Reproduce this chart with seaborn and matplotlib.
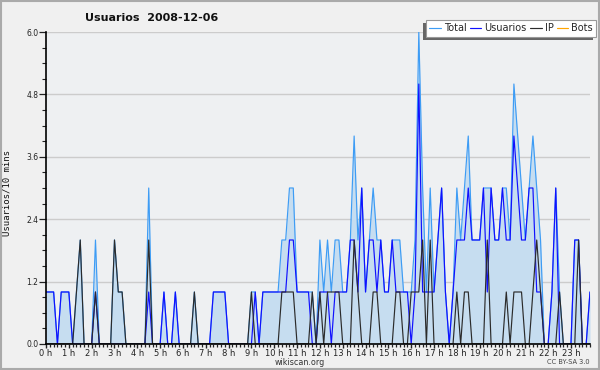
import numpy as np
import pandas as pd
import seaborn as sns
import matplotlib.pyplot as plt
from matplotlib import font_manager
from matplotlib.patches import Rectangle
from matplotlib.ticker import MultipleLocator

# one value per 10-minute slot, 00:00 -> 23:50
hours = [f"{h} h" for h in range(24)]

total = [
    1, 1, 1, 0, 1, 1, 1, 0, 1, 2, 0, 0,
    0, 2, 0, 0, 0, 0, 2, 1, 1, 0, 0, 0,
    0, 0, 0, 3, 0, 0, 0, 1, 0, 0, 1, 0,
    0, 0, 0, 1, 0, 0, 0, 0, 1, 1, 1, 1,
    0, 0, 0, 0, 0, 0, 1, 1, 0, 1, 1, 1,
    1, 1, 2, 2, 3, 3, 1, 1, 1, 1, 1, 0,
    2, 1, 2, 1, 2, 2, 1, 1, 2, 4, 2, 3,
    1, 2, 3, 2, 2, 1, 1, 2, 2, 2, 1, 1,
    1, 2, 6, 3, 1, 3, 1, 2, 3, 1, 0, 1,
    3, 2, 3, 4, 2, 2, 2, 3, 3, 3, 2, 2,
    3, 3, 2, 5, 4, 3, 2, 3, 4, 3, 2, 0,
    0, 1, 3, 1, 0, 0, 0, 2, 2, 0, 0, 1,
]
usuarios = [
    1, 1, 1, 0, 1, 1, 1, 0, 0, 0, 0, 0,
    0, 1, 0, 0, 0, 0, 0, 0, 0, 0, 0, 0,
    0, 0, 0, 1, 0, 0, 0, 1, 0, 0, 1, 0,
    0, 0, 0, 0, 0, 0, 0, 0, 1, 1, 1, 1,
    0, 0, 0, 0, 0, 0, 0, 1, 0, 1, 1, 1,
    1, 1, 1, 1, 2, 2, 1, 1, 1, 1, 0, 0,
    1, 1, 1, 0, 1, 1, 1, 1, 2, 2, 1, 3,
    1, 2, 2, 1, 2, 1, 1, 2, 1, 1, 1, 1,
    0, 1, 5, 1, 1, 1, 1, 2, 3, 1, 0, 1,
    2, 2, 2, 3, 2, 2, 2, 3, 1, 3, 2, 2,
    3, 2, 2, 4, 3, 2, 2, 3, 3, 1, 1, 0,
    0, 1, 3, 0, 0, 0, 0, 2, 2, 0, 0, 1,
]
ip = [
    0, 0, 0, 0, 0, 0, 0, 0, 1, 2, 0, 0,
    0, 1, 0, 0, 0, 0, 2, 1, 1, 0, 0, 0,
    0, 0, 0, 2, 0, 0, 0, 0, 0, 0, 0, 0,
    0, 0, 0, 1, 0, 0, 0, 0, 0, 0, 0, 0,
    0, 0, 0, 0, 0, 0, 1, 0, 0, 0, 0, 0,
    0, 0, 1, 1, 1, 1, 0, 0, 0, 0, 1, 0,
    1, 0, 1, 1, 1, 1, 0, 0, 0, 2, 1, 0,
    0, 0, 1, 1, 0, 0, 0, 0, 1, 1, 0, 0,
    1, 1, 1, 2, 0, 2, 0, 0, 0, 0, 0, 0,
    1, 0, 1, 1, 0, 0, 0, 0, 2, 0, 0, 0,
    0, 1, 0, 1, 1, 1, 0, 0, 1, 2, 1, 0,
    0, 0, 0, 1, 0, 0, 0, 0, 2, 0, 0, 0,
]
bots = [0] * 144

series_names = ["Total", "Usuarios", "IP", "Bots"]
colors = {"Total": "#3d9cf5", "Usuarios": "#1010ff", "IP": "#2b2b2b", "Bots": "#ffa500"}

slots = np.arange(len(total))
df = pd.DataFrame({"slot": slots, "Total": total, "Usuarios": usuarios, "IP": ip, "Bots": bots})
long = df.melt(id_vars="slot", var_name="serie", value_name="n")

sns.set_style("white", {"axes.facecolor": "#eef0f2"})
plt.rcParams["font.family"] = ["DejaVu Sans"]

# narrow face for the title if one is around
names = {f.name for f in font_manager.fontManager.ttflist}
if "Liberation Sans Narrow" in names:
    title_font = dict(family="Liberation Sans Narrow", fontsize=10)
else:
    title_font = dict(family="DejaVu Sans", fontsize=8)

fig = plt.figure(figsize=(6, 3.7), dpi=100, facecolor="#f0f0f0")
ax = fig.add_axes([0.0767, 0.0703, 0.9066, 0.8432])

ax.fill_between(slots, total, 0, color="#c6ddf0", lw=0, zorder=1)
sns.lineplot(data=long, x="slot", y="n", hue="serie", hue_order=series_names,
             palette=colors, lw=0.85, legend=False, ax=ax, zorder=2)

ax.set_xlim(0, len(total) - 1)
ax.set_ylim(0, 6)
ax.set_xticks(np.arange(0, 144, 6))
ax.set_xticklabels(hours)
ax.xaxis.set_minor_locator(MultipleLocator(1))
ax.set_yticks([0, 1.2, 2.4, 3.6, 4.8, 6.0])
ax.set_yticklabels(["0.0", "1.2", "2.4", "3.6", "4.8", "6.0"])
ax.yaxis.set_minor_locator(MultipleLocator(0.3))
ax.tick_params(axis="x", which="major", direction="out", length=3, width=1,
               labelsize=6, colors="#222222", pad=0.5, bottom=True)
ax.tick_params(axis="x", which="minor", direction="out", length=2, width=0.9,
               colors="#222222", bottom=True)
ax.tick_params(axis="y", which="major", direction="out", length=5, width=0.9,
               labelsize=5.5, colors="#222222", pad=0.5, left=True)
ax.tick_params(axis="y", which="minor", direction="out", length=2.8, width=0.8,
               colors="#222222", left=True)
ax.grid(axis="y", color="#cccccc", lw=1)
ax.grid(axis="x", visible=False)
for side in ["top", "right"]:
    ax.spines[side].set_visible(False)
for side in ["left", "bottom"]:
    ax.spines[side].set_color("#000000")
    ax.spines[side].set_linewidth(1.2)
ax.set_xlabel("")
ax.set_ylabel("Usuarios/10 mins", fontsize=6.5, family="DejaVu Sans Mono", color="#111111")
ax.yaxis.set_label_coords(-0.064, 0.485)

fig.text(0.142, 0.952, "Usuarios  2008-12-06", fontweight="bold",
         color="#111111", ha="left", va="center", **title_font)
fig.text(0.5, 0.021, "wikiscan.org", fontsize=5.8, color="#333333", ha="center", va="center")
fig.text(0.982, 0.021, "CC BY-SA 3.0", fontsize=4.8, color="#444444", ha="right", va="center")

handles = ax.get_lines()[:4]
leg = fig.legend(handles, series_names, loc="upper right", bbox_to_anchor=(0.994, 0.946),
                 ncol=4, fontsize=7, frameon=True, fancybox=False, edgecolor="#999999",
                 framealpha=1, handlelength=1.2, handletextpad=0.3, columnspacing=0.35,
                 borderpad=0.35, borderaxespad=0)
leg.get_frame().set_linewidth(0.8)
leg.get_frame().set_facecolor("white")
leg.set_zorder(5)

fig.canvas.draw()
bb = leg.get_window_extent().transformed(fig.transFigure.inverted())
fig.patches.append(Rectangle((bb.x0 - 0.005, bb.y0 - 0.009), bb.width, bb.height,
                             transform=fig.transFigure, facecolor="#666666",
                             edgecolor="none", zorder=4))
fig.patches.append(Rectangle((0.001, 0.0015), 0.997, 0.996, transform=fig.transFigure,
                             facecolor="none", edgecolor="#aaaaaa", lw=1.5, zorder=10))

fig.savefig("out.png", dpi=100, facecolor=fig.get_facecolor())
